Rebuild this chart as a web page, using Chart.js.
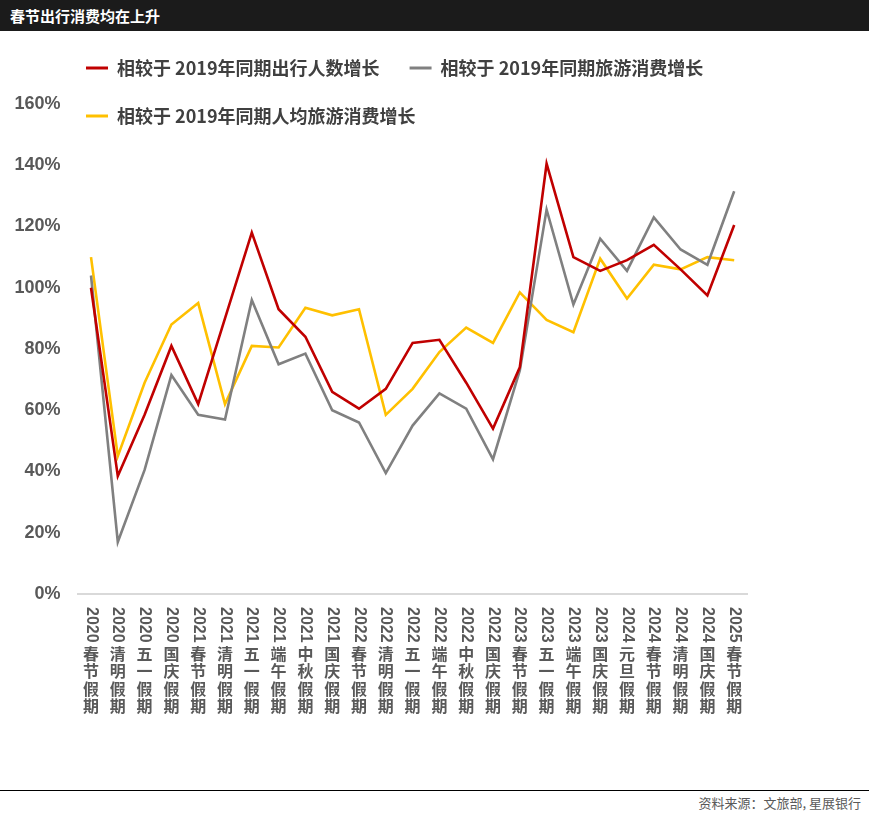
<!DOCTYPE html>
<html>
<head>
<meta charset="utf-8">
<script src="https://cdn.jsdelivr.net/npm/chart.js@4.4.1/dist/chart.umd.min.js"></script>
<style>
  html, body { margin: 0; padding: 0; background: #fff; width: 869px; height: 821px; overflow: hidden; }
  #title { height: 31px; background: #1b1b1b; color: #fff; font: bold 15px "Noto Sans CJK SC", sans-serif; line-height: 31px; padding-left: 10px; }
  #wrap { position: relative; width: 869px; height: 759px; }
  #footer { border-top: 1px solid #000; height: 30px; text-align: right; padding-right: 8px; font: 13px "Noto Sans CJK SC", sans-serif; color: #595959; line-height: 24px; }
</style>
</head>
<body>
<div id="title">春节出行消费均在上升</div>
<div id="wrap"><canvas id="c"></canvas></div>
<div id="footer">资料来源：文旅部, 星展银行</div>
<script>
const categories = ['2020春节假期','2020清明假期','2020五一假期','2020国庆假期','2021春节假期','2021清明假期','2021五一假期','2021端午假期','2021中秋假期','2021国庆假期','2022春节假期','2022清明假期','2022五一假期','2022端午假期','2022中秋假期','2022国庆假期','2023春节假期','2023五一假期','2023端午假期','2023国庆假期','2024元旦假期','2024春节假期','2024清明假期','2024国庆假期','2025春节假期'];
const seriesNames = ['相较于 2019年同期出行人数增长','相较于 2019年同期旅游消费增长','相较于 2019年同期人均旅游消费增长'];
const tripsGrowth = [100, 38.5, 58.5, 81, 62, 90, 118, 93, 84, 66, 60.5, 67, 82, 83, 69, 54, 74, 140.5, 110, 105.5, 109, 114, 106, 97.5, 120.5];
const spendGrowth = [104, 17, 40.5, 71.5, 58.5, 57, 96, 75, 78.5, 60, 56, 39.5, 55, 65.5, 60.5, 44, 73, 125.5, 94.5, 116, 105.5, 123, 112.5, 107.5, 131.5];
const perCapitaGrowth = [110, 45, 69, 88, 95, 62, 81, 80.5, 93.5, 91, 93, 58.5, 67, 79, 87, 82, 98.5, 89.5, 85.5, 109.5, 96.5, 107.5, 106, 110, 109];
const yTicks = [0, 20, 40, 60, 80, 100, 120, 140, 160];
const colors = ['#C00000', '#808080', '#FFC000'];

const CANVAS_H = 759;
const AREA_TOP = 73, AREA_BOTTOM = 563, AREA_LEFT = 77.6, AREA_RIGHT = 747.6;

const legendPlacer = {
  id: 'legendPlacer',
  afterLayout(chart) {
    const lg = chart.legend;
    if (!lg) return;
    lg.maxWidth = 780;
    lg.maxHeight = 200;
    lg.fit();
    lg.left = 56; lg.top = -2;
    lg.width = 780; lg.height = 140;
    lg.right = lg.left + lg.width;
    lg.bottom = lg.top + lg.height;
  }
};

const xLabels = {
  id: 'xLabels',
  afterDraw(chart) {
    const ctx = chart.ctx;
    const xs = chart.scales.x;
    ctx.save();
    ctx.fillStyle = '#595959';
    categories.forEach((c, i) => {
      const x = xs.getPixelForValue(i);
      const year = c.slice(0, 4);
      const rest = c.slice(4);
      ctx.save();
      ctx.translate(x, 576);
      ctx.rotate(Math.PI / 2);
      ctx.font = 'bold 16px "Liberation Sans", Arial, sans-serif';
      ctx.textAlign = 'left';
      ctx.textBaseline = 'middle';
      ctx.fillText(year, 0, 0);
      ctx.restore();
      ctx.font = 'bold 16px "Noto Sans CJK SC", sans-serif';
      ctx.textAlign = 'center';
      ctx.textBaseline = 'middle';
      Array.from(rest).forEach((ch, k) => {
        ctx.fillText(ch, x, 622.5 + 17.5 * k);
      });
    });
    ctx.restore();
  }
};

const makeDs = (label, data, color) => ({
  label, data,
  borderColor: color, backgroundColor: color,
  borderWidth: 2.6, pointRadius: 0, tension: 0, fill: false
});

new Chart(document.getElementById('c'), {
  type: 'line',
  data: {
    labels: categories,
    datasets: [
      makeDs(seriesNames[0], tripsGrowth, colors[0]),
      makeDs(seriesNames[1], spendGrowth, colors[1]),
      makeDs(seriesNames[2], perCapitaGrowth, colors[2])
    ]
  },
  options: {
    responsive: true,
    maintainAspectRatio: false,
    animation: false,
    layout: { padding: { top: AREA_TOP - 1, left: 0, right: 869 - AREA_RIGHT, bottom: 0 } },
    plugins: {
      legend: {
        position: 'top',
        align: 'start',
        maxHeight: 1,
        labels: {
          boxWidth: 22, boxHeight: 3, padding: 30,
          color: '#404040',
          font: { family: '"Noto Sans CJK SC", sans-serif', size: 18, weight: 'bold' },
          generateLabels(chart) {
            const items = Chart.defaults.plugins.legend.labels.generateLabels(chart);
            items.forEach(it => { it.lineWidth = 0; });
            return items;
          }
        }
      },
      tooltip: { enabled: false },
      title: { display: false }
    },
    scales: {
      x: {
        type: 'category',
        offset: true,
        grid: { display: false },
        border: { display: true, color: '#d9d9d9', width: 2 },
        ticks: { display: false },
        afterFit(s) { s.height = CANVAS_H - AREA_BOTTOM; }
      },
      y: {
        min: 0, max: 160,
        afterBuildTicks(s) { s.ticks = yTicks.map(v => ({ value: v })); },
        ticks: {
          callback: v => v + '%',
          color: '#595959',
          padding: 9,
          font: { family: '"Liberation Sans", Arial, sans-serif', size: 18, weight: 'bold' }
        },
        grid: { display: false },
        border: { display: false },
        afterFit(s) { s.width = AREA_LEFT; }
      }
    }
  },
  plugins: [legendPlacer, xLabels]
});
</script>
</body>
</html>
